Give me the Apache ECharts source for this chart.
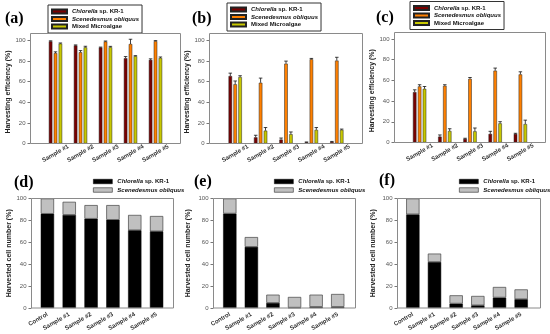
<!DOCTYPE html>
<html><head><meta charset="utf-8">
<script src="https://cdn.jsdelivr.net/npm/echarts@6/dist/echarts.min.js"></script>
<style>html,body{margin:0;padding:0;background:#fff}#c{width:550px;height:334px}</style>
</head><body><div id="c"></div>
<script>
// ---------- data ----------
const samples = ['Sample #1', 'Sample #2', 'Sample #3', 'Sample #4', 'Sample #5'];
const samplesCtl = ['Control', 'Sample #1', 'Sample #2', 'Sample #3', 'Sample #4', 'Sample #5'];
const yTickValues = [0, 20, 40, 60, 80, 100];
const seriesNames = ['Chlorella sp. KR-1', 'Scenedesmus obliquus', 'Mixed Microalgae'];

// (a)
const aChlorella = [99.2, 95.2, 93.2, 82.8, 81.2];
const aChlorellaErr = [0.5, 0.5, 0.4, 1.6, 1.0];
const aScenedesmus = [87.8, 88.6, 99.0, 96.6, 99.4];
const aScenedesmusErr = [1.2, 1.6, 0.5, 4.6, 0.5];
const aMixed = [97.0, 93.4, 93.5, 84.8, 83.0];
const aMixedErr = [0.6, 1.0, 0.8, 0.5, 1.0];
// (b)
const bChlorella = [65.5, 6.0, 3.8, 1.2, 1.5];
const bChlorellaErr = [2.8, 2.0, 1.5, 0.3, 0.5];
const bScenedesmus = [57.5, 59.0, 77.5, 81.8, 80.5];
const bScenedesmusErr = [3.2, 4.5, 2.5, 0.8, 3.2];
const bMixed = [64.5, 12.5, 9.0, 13.2, 13.2];
const bMixedErr = [1.3, 3.0, 2.2, 2.3, 0.8];
// (c)
const cChlorella = [48.7, 5.7, 3.5, 8.3, 8.3];
const cChlorellaErr = [2.2, 1.6, 0.6, 2.5, 0.6];
const cScenedesmus = [54.2, 54.8, 61.5, 69.4, 65.8];
const cScenedesmusErr = [1.6, 1.0, 1.3, 2.5, 2.5];
const cMixed = [51.9, 11.1, 10.8, 18.5, 17.8];
const cMixedErr = [2.2, 2.2, 3.2, 1.6, 3.8];
// (d)
const dChlorella = [86.0, 85.0, 81.5, 80.5, 71.0, 70.0];
const dScenedesmus = [14.0, 12.0, 12.5, 13.5, 14.0, 14.0];
// (e)
const eChlorella = [86.2, 55.8, 4.6, 0.3, 1.0, 1.0];
const eScenedesmus = [13.8, 9.0, 7.6, 9.8, 11.2, 11.8];
// (f)
const fChlorella = [85.5, 42.0, 4.0, 2.4, 9.5, 8.0];
const fScenedesmus = [14.5, 7.7, 7.6, 8.6, 9.7, 9.0];

// ---------- styles / layout ----------
const FONT = '"Liberation Sans", Arial, sans-serif';
const SERIF = '"Liberation Serif", "Times New Roman", serif';
const COLORS = ['#7a0000', '#ff8000', '#c8c800'];
const BAR_W = 3.5, GAP = 0.4, CAP = 3.5;
const STACK_W = 13.3;
const FRAME_COLOR = '#8a8a8a';

const panels = [
  { key: 'a', frame: [30.5, 33.5, 180.5, 143.5], y100: 40.5, padL: 12.5, padR: 12.5, letter: [5, 11], legend: [48, 5], nameGap: 17,
    groups: [[aChlorella, aChlorellaErr], [aScenedesmus, aScenedesmusErr], [aMixed, aMixedErr]] },
  { key: 'b', frame: [209.5, 33.5, 362.5, 143.5], y100: 40.5, padL: 13, padR: 13, letter: [192, 11], legend: [227, 3], nameGap: 15,
    groups: [[bChlorella, bChlorellaErr], [bScenedesmus, bScenedesmusErr], [bMixed, bMixedErr]] },
  { key: 'c', frame: [394.5, 32.5, 545.5, 142.5], y100: 39, padL: 12.5, padR: 12.5, letter: [376, 10], legend: [410, 1.5], nameGap: 17,
    groups: [[cChlorella, cChlorellaErr], [cScenedesmus, cScenedesmusErr], [cMixed, cMixedErr]] },
  { key: 'd', frame: [31.5, 198.5, 173.5, 308], y100: 198.5, padL: 5, padR: 6, letter: [14, 175], legend: [93, 178], nameGap: 19, stack: [dChlorella, dScenedesmus] },
  { key: 'e', frame: [213.5, 198.5, 355.5, 308], y100: 198.5, padL: 5.5, padR: 7, letter: [194, 174], legend: [274, 178], nameGap: 22, stack: [eChlorella, eScenedesmus] },
  { key: 'f', frame: [397.5, 198.5, 540.5, 308], y100: 198.5, padL: 4.5, padR: 8.5, letter: [379, 173], legend: [459, 178], nameGap: 21, stack: [fChlorella, fScenedesmus] }
];

const legendFmt = n => n.replace(/^(Chlorella|Scenedesmus obliquus)/, '{i|$1}');

const option = { animation: false, grid: [], xAxis: [], yAxis: [], series: [], legend: [], graphic: [] };

panels.forEach((p, gi) => {
  const [x0, y0, x1, y1] = p.frame;
  const top = p.groups;
  option.grid.push({ left: x0 + p.padL, width: (x1 - x0) - p.padL - p.padR, top: p.y100, height: y1 - p.y100 });
  option.xAxis.push({
    type: 'category', gridIndex: gi, data: top ? samples : samplesCtl,
    axisLine: { show: false }, axisTick: { show: false },
    axisLabel: top
      ? { interval: 0, rotate: 30, fontSize: 6, fontWeight: 'bold', color: '#333', fontFamily: FONT, margin: 10, align: 'center', verticalAlign: 'middle' }
      : { interval: 0, rotate: 30, fontSize: 6, fontWeight: 'bold', color: '#333', fontFamily: FONT, margin: 6 }
  });
  option.yAxis.push({
    type: 'value', gridIndex: gi, min: yTickValues[0], max: yTickValues[yTickValues.length - 1], interval: yTickValues[1] - yTickValues[0],
    offset: p.padL,
    axisLine: { show: false }, splitLine: { show: false },
    axisTick: { show: true, length: 3, lineStyle: { color: '#777', width: 1 } },
    axisLabel: { fontSize: 6, color: '#555', margin: 5, fontFamily: FONT },
    name: top ? 'Harvesting efficiency (%)' : 'Harvested cell number (%)',
    nameLocation: 'middle', nameGap: p.nameGap,
    nameTextStyle: { fontSize: 7, fontWeight: 'bold', color: '#222', fontFamily: FONT }
  });
  if (top) {
    top.forEach(([vals, errs], k) => {
      option.series.push({
        type: 'bar', name: seriesNames[k], xAxisIndex: gi, yAxisIndex: gi, data: vals,
        barWidth: BAR_W, barGap: (GAP * 100) + '%',
        itemStyle: { color: COLORS[k], borderColor: '#222', borderWidth: 0.5 }
      });
      option.series.push({
        type: 'custom', xAxisIndex: gi, yAxisIndex: gi, z: 5, silent: true,
        data: vals.map((v, i) => [i, v, errs[i]]),
        encode: { x: 0, y: 1 },
        renderItem: (params, api) => {
          const i = api.value(0), v = api.value(1), e = api.value(2);
          const b = api.coord([i, v]), t = api.coord([i, v + e]);
          const x = b[0] + (k - 1) * (BAR_W + BAR_W * GAP);
          const st = { stroke: '#111', lineWidth: 0.8 };
          return { type: 'group', children: [
            { type: 'line', shape: { x1: x, y1: b[1], x2: x, y2: t[1] }, style: st },
            { type: 'line', shape: { x1: x - CAP / 2, y1: t[1], x2: x + CAP / 2, y2: t[1] }, style: st }
          ] };
        }
      });
    });
    option.legend.push({
      left: p.legend[0], top: p.legend[1], orient: 'vertical', data: seriesNames, icon: 'rect',
      itemWidth: 15, itemHeight: 4, itemGap: 0.5, padding: [3, 3, 3, 3],
      borderColor: '#333', borderWidth: 1, selectedMode: false,
      formatter: legendFmt,
      textStyle: { fontSize: 6, fontWeight: 'bold', color: '#111', fontFamily: FONT, lineHeight: 7,
        rich: { i: { fontSize: 6, fontWeight: 'bold', fontStyle: 'italic', color: '#111', fontFamily: FONT, lineHeight: 7 } } }
    });
  } else {
    const [chl, sce] = p.stack;
    option.series.push({
      type: 'bar', name: seriesNames[0], xAxisIndex: gi, yAxisIndex: gi, data: chl, stack: 's' + gi,
      barWidth: STACK_W, itemStyle: { color: '#000', borderColor: '#000', borderWidth: 0.5 }
    });
    option.series.push({
      type: 'bar', name: seriesNames[1], xAxisIndex: gi, yAxisIndex: gi, data: sce, stack: 's' + gi,
      barWidth: STACK_W, itemStyle: { color: '#c0c0c0', borderColor: '#444', borderWidth: 0.7 }
    });
    option.legend.push({
      left: p.legend[0], top: p.legend[1], orient: 'vertical', icon: 'rect',
      data: [
        { name: seriesNames[0], itemStyle: { color: '#000', borderColor: '#000', borderWidth: 0.5 } },
        { name: seriesNames[1], itemStyle: { color: '#c0c0c0', borderColor: '#444', borderWidth: 0.7 } }
      ],
      itemWidth: 19, itemHeight: 4.5, itemGap: 1.5, padding: 0, selectedMode: false,
      formatter: legendFmt,
      textStyle: { fontSize: 6, fontWeight: 'bold', color: '#111', fontFamily: FONT, lineHeight: 7,
        rich: { i: { fontSize: 6, fontWeight: 'bold', fontStyle: 'italic', color: '#111', fontFamily: FONT, lineHeight: 7 } } }
    });
  }
  option.graphic.push({
    type: 'rect', z: 50, silent: true,
    shape: { x: x0, y: y0, width: x1 - x0, height: y1 - y0 },
    style: { fill: 'none', stroke: FRAME_COLOR, lineWidth: 1 }
  });
  option.graphic.push({
    type: 'text', z: 50, x: p.letter[0], y: p.letter[1],
    style: { text: '(' + p.key + ')', fontSize: 16, fontWeight: 'bold', fontFamily: SERIF, fill: '#000' }
  });
});

const chart = echarts.init(document.getElementById('c'), null, { renderer: 'canvas' });
chart.setOption(option);
</script>
</body></html>
